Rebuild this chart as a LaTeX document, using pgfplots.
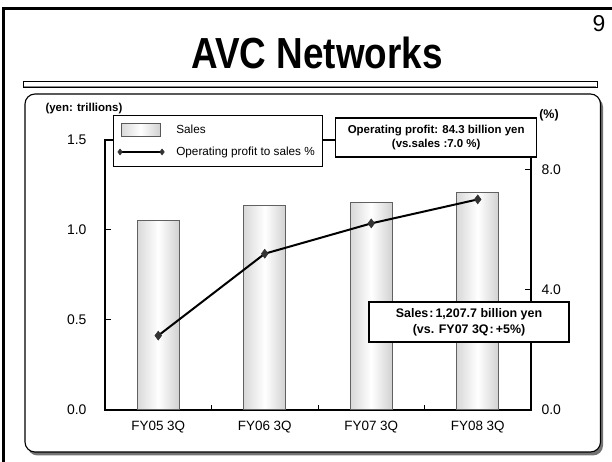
\documentclass[border=0pt]{standalone}
\usepackage{pgfplots}
\pgfplotsset{compat=1.18}
\usepackage{fontspec}
\setmainfont{Liberation Sans}
\pgfdeclarehorizontalshading{barshade}{100bp}{color(0bp)=(black!30); color(50bp)=(white); color(100bp)=(black!36)}
\pgfplotsset{salesbar/.style={ybar, bar width=42bp, bar shift=0pt, draw=black!62, line width=1bp, shade, shading=barshade}}
\pgfplotstableread{
x ratio
0 2.48
1 5.21
2 6.22
3 7.02
}\ratiotable
\begin{document}
\begin{tikzpicture}[x=1bp,y=1bp]
\useasboundingbox (0,0) rectangle (612,462);
% outer frame
\draw[line width=3bp] (3.5,-10) -- (3.5,453.5) -- (630,453.5);
\node[font=\fontsize{23}{25}\selectfont, anchor=base] at (599,430) {9};
\node[font=\bfseries\fontsize{37}{40}\selectfont, anchor=base] at (317,393) {\scalebox{1}[1.18]{AVC Networks}};
% separator bar
\draw[line width=1bp, fill=white] (23,374.5) rectangle (597,380.5);
\draw[line width=1.4bp, black!45] (24,375.5) -- (596,375.5);
% rounded panel with shadow
\fill[black!55, rounded corners=10bp] (27.5,6.5) rectangle (603,365);
\draw[line width=1.1bp, fill=white, rounded corners=10bp] (25,10) rectangle (600.5,368);
% axes
\begin{axis}[
  at={(105bp,52bp)}, anchor=south west,
  width=426bp, height=270bp, scale only axis,
  xmin=-0.5, xmax=3.5, ymin=0, ymax=1.5,
  xtick={0,1,2,3}, xticklabels={FY05 3Q,FY06 3Q,FY07 3Q,FY08 3Q},
  minor xtick={0.5,1.5,2.5},
  major x tick style={draw=none},
  minor tick length=5bp, major tick length=6bp,
  xtick pos=bottom, ytick pos=left,
  tick align=inside,
  ytick={0,0.5,1,1.5},
  yticklabels={0.0,0.5,1.0,1.5},
  /pgf/number format/assume math mode=true,
  ticklabel style={font=\fontsize{14}{16}\selectfont},
  yticklabel style={xshift=-15bp},
  xticklabel style={yshift=-8bp, font=\fontsize{13.5}{15}\selectfont},
  axis line style={line width=1.1bp},
  every tick/.style={black, line width=1bp},
  clip=false,
]
\addplot[salesbar] coordinates {(0,1.052)};
\addplot[salesbar] coordinates {(1,1.135)};
\addplot[salesbar] coordinates {(2,1.152)};
\addplot[salesbar] coordinates {(3,1.2077)};
\end{axis}
\begin{axis}[
  at={(105bp,52bp)}, anchor=south west,
  width=426bp, height=270bp, scale only axis,
  xmin=-0.5, xmax=3.5, ymin=0, ymax=9,
  axis x line=none, axis y line*=right,
  ytick={0,4,8}, yticklabels={0.0,4.0,8.0},
  tick align=inside, major tick length=6bp,
  /pgf/number format/assume math mode=true,
  ticklabel style={font=\fontsize{14}{16}\selectfont},
  yticklabel style={xshift=7bp},
  axis line style={line width=1.1bp},
  every tick/.style={black, line width=1bp},
  clip=false,
  legend image code/.code={\draw[#1, mark size=3bp] plot coordinates {(0bp,0bp) (42bp,0bp)};},
  legend cell align=left,
  legend style={at={(0.0195,1.0926)}, anchor=north west, draw=black, line width=1bp, fill=white,
    font=\fontsize{11.8}{13}\selectfont, inner xsep=4bp, inner ysep=7.5bp, row sep=8bp,
    /tikz/every odd column/.append style={column sep=10bp}},
]
\addlegendimage{legend image code/.code={\draw[draw=black!65, line width=0.8bp, shade, shading=barshade] (1bp,-6.5bp) rectangle (40bp,6.5bp);}}
\addlegendentry{\makebox[140bp][l]{Sales}}
\addplot[black, line width=2bp, mark=diamond*, mark size=4.5bp, mark options={fill=black!80, draw=black!80, line width=0.5bp}]
  table[x=x, y=ratio] {\ratiotable};
\addlegendentry{Operating profit to sales \%}
\end{axis}
\node[font=\bfseries\fontsize{11.5}{13}\selectfont] at (42,353) [anchor=west] {(yen: trillions)};
\node[font=\bfseries\fontsize{12.5}{14}\selectfont] at (549,347) {(\%)};
\node[draw=black, line width=1.5bp, fill=white, minimum width=201bp, minimum height=39bp, inner sep=0pt, align=center,
  font=\bfseries\fontsize{11.5}{14}\selectfont] at (436.2,324.5) {Operating profit: 84.3 billion yen\\(vs.sales :7.0 \%)};
\node[draw=black, line width=1.5bp, fill=white, minimum width=200bp, minimum height=40bp, inner sep=0pt, align=center,
  font=\bfseries\fontsize{12.5}{16}\selectfont] at (469,140) {Sales\kern1pt:\kern2pt1,207.7 billion yen\\(vs. FY07 3Q\kern1pt:\kern2pt+5\%)};
\end{tikzpicture}
\end{document}
